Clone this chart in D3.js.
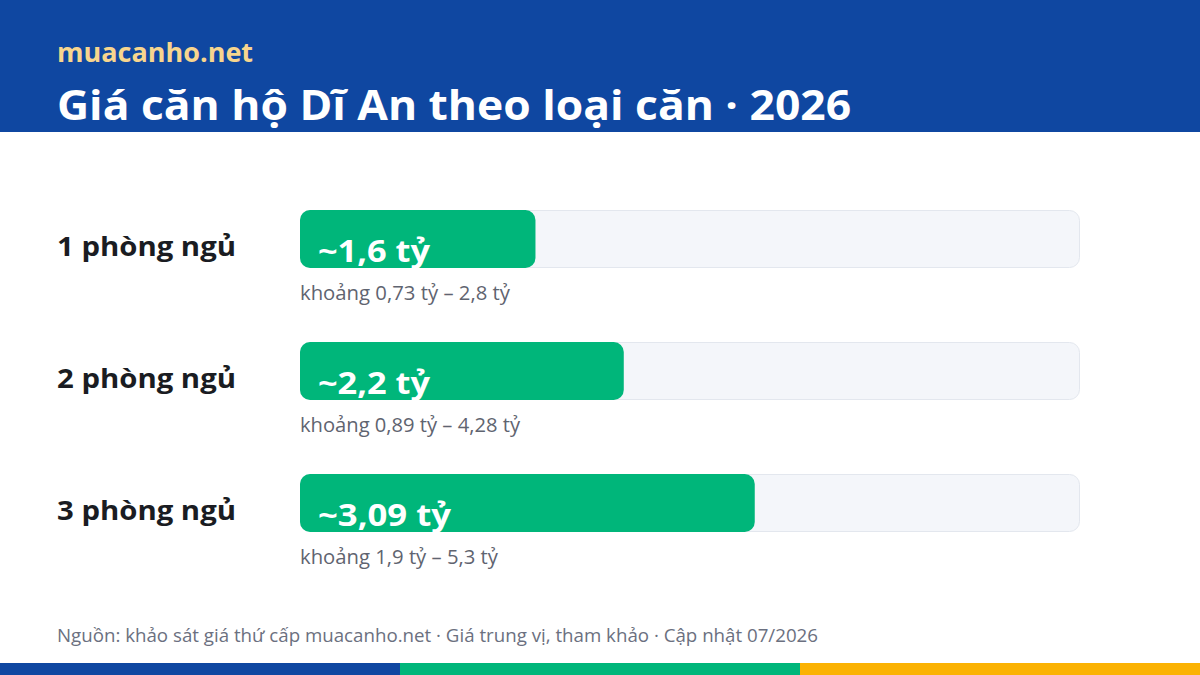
<!DOCTYPE html>
<html><head><meta charset="utf-8">
<script src="https://cdn.jsdelivr.net/npm/d3@7"></script>
<style>html,body{margin:0;padding:0;background:#fff;}svg{display:block;font-family:"Open Sans",sans-serif;}</style>
</head><body>
<svg id="c" width="1200" height="675"></svg>
<script>
const categories = ["1 phòng ngủ", "2 phòng ngủ", "3 phòng ngủ"];
const medianValues = [1.6, 2.2, 3.09];
const medianLabels = ["~1,6 tỷ", "~2,2 tỷ", "~3,09 tỷ"];
const rangeLabels = ["khoảng 0,73 tỷ – 2,8 tỷ", "khoảng 0,89 tỷ – 4,28 tỷ", "khoảng 1,9 tỷ – 5,3 tỷ"];
const rangeHigh = [2.8, 4.28, 5.3];
const brand = "muacanho.net";
const title = "Giá căn hộ Dĩ An theo loại căn · 2026";
const footer = "Nguồn: khảo sát giá thứ cấp muacanho.net · Giá trung vị, tham khảo · Cập nhật 07/2026";
const stripColors = ["#0f47a1", "#00b67a", "#fbb203"];

const svg = d3.select("#c");
const W = 1200, H = 675;

// fit text to the measured extent of the reference (wider face than available fonts)
function fit(sel, w) {
  sel.each(function(){ const n=this; const cur=n.getComputedTextLength(); if (w && Math.abs(cur-w)>1) { n.setAttribute("textLength", w); n.setAttribute("lengthAdjust","spacingAndGlyphs"); } });
}

svg.append("rect").attr("x",0).attr("y",0).attr("width",W).attr("height",132).attr("fill","#0f47a1");
svg.append("text").attr("x",57).attr("y",62).attr("fill","#f7d58e").attr("font-size",27).attr("font-weight",700).text(brand).call(fit,197);
svg.append("text").attr("x",57).attr("y",120).attr("fill","#fff").attr("font-size",42).attr("font-weight",700).text(title).call(fit,794);

const x = d3.scaleLinear().domain([0, d3.max(rangeHigh)]).range([300, 1080]);
const y = d3.scaleBand().domain(categories).range([210, 606]).paddingInner(0);
const barH = 58;

const labelW = [179, 179, 179];
const valW = [112, 112, 133];
const rangeW = [210, 220, 198];

const rows = svg.selectAll("g.row").data(categories).join("g").attr("class","row")
  .attr("transform", d => `translate(0,${y(d)})`);

rows.append("rect").attr("x", x(0)+0.5).attr("y",0.5).attr("width", x.range()[1]-x(0)-1).attr("height",barH-1)
  .attr("rx",10).attr("fill","#f4f6fa").attr("stroke","#e3e7ee");
rows.append("rect").attr("x", x(0)).attr("y",0).attr("width",(d,i)=>x(medianValues[i])-x(0)).attr("height",barH)
  .attr("rx",10).attr("fill","#00b67a");
rows.append("text").attr("x", x(0)+18).attr("y",52).attr("fill","#fff").attr("font-size",31).attr("font-weight",700)
  .text((d,i)=>medianLabels[i]).each(function(d,i){ d3.select(this).call(fit, valW[i]); });
rows.append("text").attr("x",57).attr("y",46).attr("fill","#1a1c22").attr("font-size",27).attr("font-weight",700).text(d=>d)
  .each(function(d,i){ d3.select(this).call(fit, labelW[i]); });
rows.append("text").attr("x", x(0)).attr("y",90).attr("fill","#5f6470").attr("font-size",19.5).text((d,i)=>rangeLabels[i])
  .each(function(d,i){ d3.select(this).call(fit, rangeW[i]); });

svg.append("text").attr("x",57).attr("y",642).attr("fill","#6b7080").attr("font-size",18.5).text(footer).call(fit,761);

const sx = d3.scaleBand().domain(d3.range(stripColors.length)).range([0,W]);
svg.selectAll("rect.strip").data(stripColors).join("rect").attr("class","strip")
  .attr("x",(d,i)=>sx(i)).attr("y",663).attr("width",sx.bandwidth()).attr("height",12).attr("fill",d=>d);
</script>
</body></html>
